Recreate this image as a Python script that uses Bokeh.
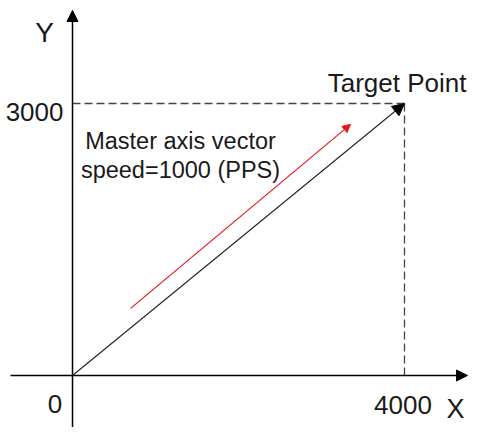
from bokeh.plotting import figure
from bokeh.models import Arrow, NormalHead, Range1d, Label
from bokeh.embed import file_html
from bokeh.resources import INLINE

# ---- data ----
origin = [0, 0]
target_x = [4000]
target_y = [3000]
x_tick_labels = ["0", "4000"]
y_tick_labels = ["3000"]
axis_names = ["X", "Y"]
target_label = "Target Point"
note_lines = ["Master axis vector", "speed=1000 (PPS)"]
speed_arrow_x = [700, 3350]
speed_arrow_y = [740, 2770]

# ---- layout ----
W, H = 469, 427
ox_px, oy_px = 72, 52          # origin position inside the figure (from left / from bottom)
sx = 332 / 4000.0              # px per unit
sy = 272 / 3000.0
x_range = Range1d(-ox_px / sx, (W - ox_px) / sx)
y_range = Range1d(-oy_px / sy, (H - oy_px) / sy)

p = figure(width=W, height=H, x_range=x_range, y_range=y_range,
           output_backend="svg", toolbar_location=None,
           x_axis_location=None, y_axis_location=None, min_border=0)
p.grid.visible = False
p.outline_line_color = None
p.background_fill_color = "white"
p.border_fill_color = "white"

FONT = "Liberation Sans"
TXT = "#1a1a1a"

# axis extents (pixels converted to data units)
x_axis_start = -62 / sx
x_axis_end = 395 / sx
y_axis_start = -80 / sy
y_axis_end = 365 / sy

# dashed guides to target
p.line([origin[0], target_x[0]], [target_y[0], target_y[0]], line_color="#444444",
       line_width=1.3, line_dash="8 4")
p.line([target_x[0], target_x[0]], [target_y[0], origin[1]], line_color="#444444",
       line_width=1.3, line_dash="8 4")

# axes with arrowheads
p.add_layout(Arrow(x_start=x_axis_start, y_start=origin[1], x_end=x_axis_end, y_end=origin[1],
                   line_color="black", line_width=1.5,
                   end=NormalHead(size=11, fill_color="black", line_color="black")))
p.add_layout(Arrow(x_start=origin[0], y_start=y_axis_start, x_end=origin[0], y_end=y_axis_end,
                   line_color="black", line_width=1.5,
                   end=NormalHead(size=11, fill_color="black", line_color="black")))

# path vector
p.add_layout(Arrow(x_start=origin[0], y_start=origin[1], x_end=target_x[0], y_end=target_y[0],
                   line_color="#222222", line_width=1.1,
                   end=NormalHead(size=12, fill_color="black", line_color="black")))

# red speed arrow
p.add_layout(Arrow(x_start=speed_arrow_x[0], y_start=speed_arrow_y[0],
                   x_end=speed_arrow_x[1], y_end=speed_arrow_y[1],
                   line_color="#e8141c", line_width=1.2,
                   end=NormalHead(size=8, fill_color="#e8141c", line_color="#e8141c")))

def lab(x, y, text, size, align, xo, yo):
    p.add_layout(Label(x=x, y=y, text=text, text_font=FONT, text_font_size=f"{size}px",
                       text_color=TXT, text_align=align, text_baseline="alphabetic",
                       x_offset=xo, y_offset=yo))

lab(origin[0], origin[1], x_tick_labels[0], 26, "center", -17.5, -28)
lab(target_x[0], origin[1], x_tick_labels[1], 26, "center", -1.5, -29)
lab(origin[0], target_y[0], y_tick_labels[0], 26, "right", -9, -8)
lab(target_x[0], target_y[0], target_label, 26, "right", 62, 21)
lab(x_axis_end, origin[1], axis_names[0], 27, "right", -3, -33)
lab(origin[0], y_axis_end, axis_names[1], 28, "center", -28, -22)
lab(origin[0], target_y[0], note_lines[0], 23.5, "center", 108, -37)
lab(origin[0], target_y[0], note_lines[1], 23.5, "center", 108, -66)

open("out.html", "w").write(file_html(p, INLINE))
